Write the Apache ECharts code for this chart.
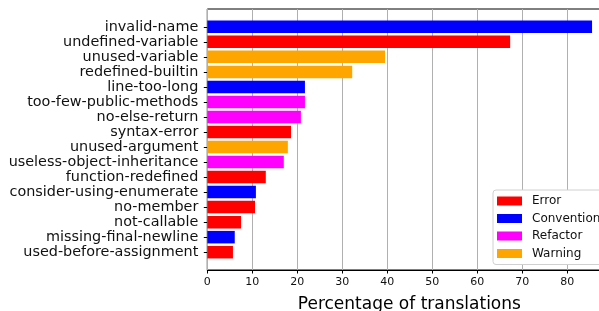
<!DOCTYPE html>
<html>
<head>
<meta charset="utf-8">
<script src="https://cdn.jsdelivr.net/npm/echarts@6/dist/echarts.min.js"></script>
<style>html,body{margin:0;padding:0;background:#fff;}#c{width:599px;height:311px;}</style>
</head>
<body>
<div id="c"></div>
<script>
var categories = ['invalid-name','undefined-variable','unused-variable','redefined-builtin','line-too-long','too-few-public-methods','no-else-return','syntax-error','unused-argument','useless-object-inheritance','function-redefined','consider-using-enumerate','no-member','not-callable','missing-final-newline','used-before-assignment'];
var values = [85.5, 67.3, 39.5, 32.2, 21.7, 21.7, 20.8, 18.6, 17.9, 17.0, 13.0, 10.8, 10.6, 7.5, 6.1, 5.7];
var types = ['Convention','Error','Warning','Warning','Convention','Refactor','Refactor','Error','Warning','Refactor','Error','Convention','Error','Error','Convention','Error'];
var typeNames = ['Error','Convention','Refactor','Warning'];
var typeColors = ['#ff0000','#0000ff','#ff00ff','#ffa500'];
var xTicks = [0,10,20,30,40,50,60,70,80];

var FONT = 'DejaVu Sans';
var XMAX = 89.8;
var chart = echarts.init(document.getElementById('c'), null, {renderer:'canvas'});
var series = typeNames.map(function(t, k){
  return {
    name: t, type: 'bar', stack: 'all', xAxisIndex: 1, yAxisIndex: 1,
    barWidth: 12.5,
    itemStyle: {color: typeColors[k]},
    data: values.map(function(v, i){ return types[i] === t ? v : '-'; })
  };
});
chart.setOption({
  animation: false,
  textStyle: {fontFamily: FONT},
  grid: [
    {left: 207.3, width: 404.1, top: 9, height: 261, outerBoundsMode: 'none', containLabel: false,
     show: true, borderColor: '#000', borderWidth: 1, backgroundColor: 'transparent'},
    {left: 207.3, width: 404.1, top: 19.3, height: 240.4, outerBoundsMode: 'none', containLabel: false}
  ],
  xAxis: [
    {type: 'value', gridIndex: 0, min: 0, max: XMAX, interval: 10,
     axisLine: {show: true, lineStyle: {color: '#000', width: 1}},
     axisTick: {show: true, length: 3.5, lineStyle: {color: '#000'}, customValues: xTicks},
     axisLabel: {fontSize: 11, color: '#111', margin: 7, fontFamily: FONT, customValues: xTicks},
     splitLine: {show: true, lineStyle: {color: '#b0b0b0', width: 1}},
     name: 'Percentage of translations', nameLocation: 'middle', nameGap: 26,
     nameTextStyle: {fontSize: 17, color: '#000', fontFamily: FONT}},
    {type: 'value', gridIndex: 1, min: 0, max: XMAX, show: false}
  ],
  yAxis: [
    {type: 'value', gridIndex: 0, show: false},
    {type: 'category', gridIndex: 1, inverse: true, data: categories,
     axisLine: {show: false},
     axisTick: {show: true, alignWithLabel: true, interval: 0, length: 3.5, lineStyle: {color: '#000'}},
     axisLabel: {fontSize: 14.4, color: '#111', margin: 9, interval: 0, fontFamily: FONT},
     splitLine: {show: false}}
  ],
  legend: {
    orient: 'vertical', left: 493, top: 190,
    data: typeNames,
    icon: 'rect', itemWidth: 25, itemHeight: 9, itemGap: 5.5,
    padding: [5, 20, 5, 4],
    backgroundColor: '#fff', borderColor: '#d0d0d0', borderWidth: 1, borderRadius: 3,
    textStyle: {fontSize: 12, color: '#111', fontFamily: FONT, lineHeight: 12, padding: [0,0,0,5]}
  },
  series: series
});
</script>
</body>
</html>
